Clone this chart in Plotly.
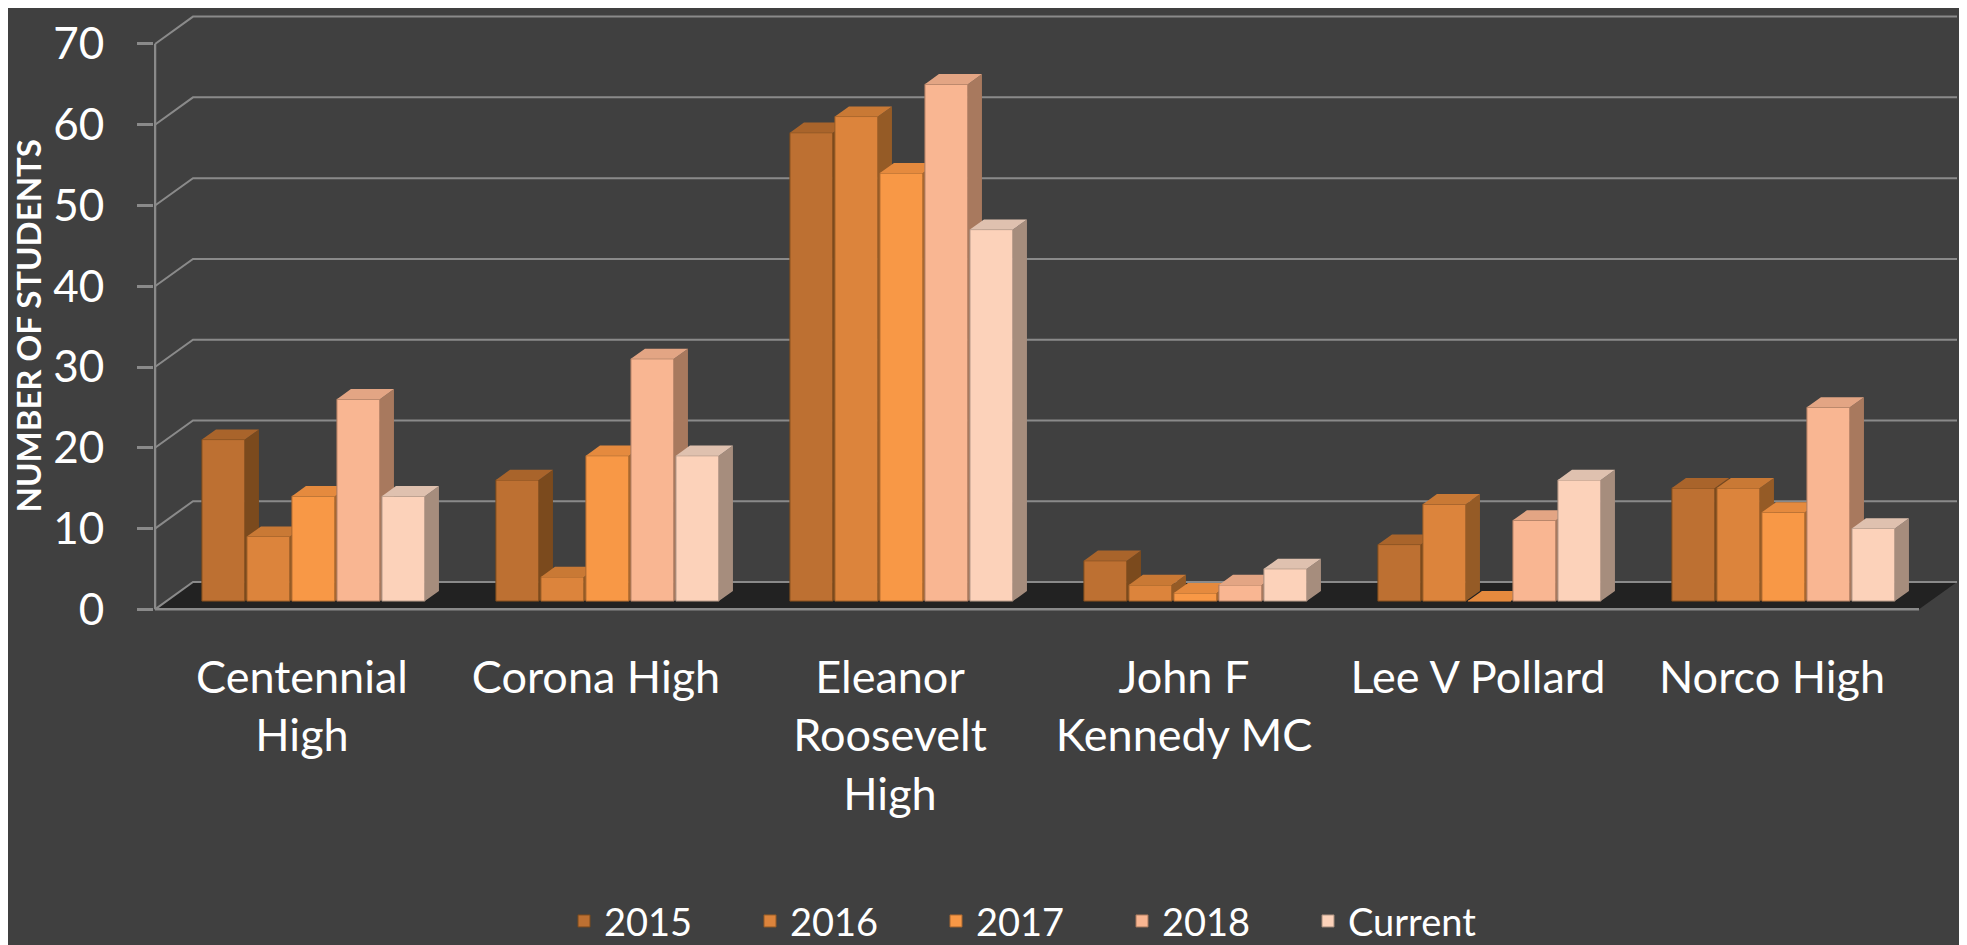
import plotly.graph_objects as go

# ---------------- data ----------------
categories = ["Centennial High", "Corona High", "Eleanor Roosevelt High",
              "John F Kennedy MC", "Lee V Pollard", "Norco High"]
tick_labels = ["Centennial<br>High", "Corona High", "Eleanor<br>Roosevelt<br>High",
               "John F<br>Kennedy MC", "Lee V Pollard", "Norco High"]
series_names = ["2015", "2016", "2017", "2018", "Current"]
v2015 = [20, 15, 58, 5, 7, 14]
v2016 = [8, 3, 60, 2, 12, 14]
v2017 = [13, 18, 53, 1, 0, 11]
v2018 = [25, 30, 64, 2, 10, 24]
v_current = [13, 18, 46, 4, 15, 9]
y_ticks = [0, 10, 20, 30, 40, 50, 60, 70]
y_title = "NUMBER OF STUDENTS"

series_values = [v2015, v2016, v2017, v2018, v_current]

# ---------------- styles ----------------
front_colors = ["#BD7032", "#DC843C", "#F89846", "#F9B692", "#FCD2BA"]
side_colors = ["#7B4A1D", "#955B26", "#A9672F", "#A8795E", "#A68D7D"]
top_colors = ["#A9642B", "#C97935", "#E58A3E", "#E3A584", "#DFC1AF"]
BG = "#404040"
GRID = "#8A8A8A"
FLOOR = "#222222"
FONT = "Lato"

W, H = 1967, 945
PX_PER_CAT = 294.0      # horizontal pixels per category
X0_PX = 294.0           # pixel x of first category (front plane)
PX_PER_UNIT = 8.26      # vertical pixels per student
Y0_PX = 615.0           # pixel y of value 0 (front plane)
DOM_L = 146.0
DOM_B = 650.0

# depth of the 3-D box expressed in axis units
DX = 38.0 / PX_PER_CAT
DY = 28.0 / PX_PER_UNIT
D_FRONT, D_BACK = 0.30, 0.67
PITCH = 45.0 / PX_PER_CAT
FACE = 43.0 / PX_PER_CAT

n_cat = len(categories)
x_left, x_right = -0.5, n_cat - 0.5

fig = go.Figure()

# floor
fig.add_trace(go.Scatter(
    x=[x_left, x_right, x_right + DX, x_left + DX, x_left],
    y=[0, 0, DY, DY, 0],
    mode="lines", fill="toself", fillcolor=FLOOR, line=dict(width=0),
    showlegend=False, hoverinfo="skip", zorder=0))

# back-wall gridlines with their diagonal to the front axis
gx, gy = [], []
for v in y_ticks:
    gx += [x_left, x_left + DX, x_right + DX, None]
    gy += [v, v + DY, v + DY, None]
fig.add_trace(go.Scatter(x=gx, y=gy, mode="lines",
                         line=dict(color=GRID, width=2),
                         showlegend=False, hoverinfo="skip", zorder=0))

# front axis lines (vertical value axis and floor front edge)
fig.add_trace(go.Scatter(x=[x_left, x_left, None, x_left, x_right],
                         y=[y_ticks[-1], 0, None, 0, 0], mode="lines",
                         line=dict(color=GRID, width=2.5),
                         showlegend=False, hoverinfo="skip", zorder=0))

ddx = (D_BACK - D_FRONT) * DX
ddy = (D_BACK - D_FRONT) * DY
base = D_FRONT * DY

for j, (name, vals) in enumerate(zip(series_names, series_values)):
    xc = [i + D_FRONT * DX + (j - 2) * PITCH for i in range(n_cat)]
    sx, sy, tx, ty = [], [], [], []
    for x, v in zip(xc, vals):
        xl, xr = x - FACE / 2, x + FACE / 2
        b, t = base, base + v
        sx += [xr, xr, xr + ddx, xr + ddx, xr, None]
        sy += [b, t, t + ddy, b + ddy, b, None]
        tx += [xl, xr, xr + ddx, xl + ddx, xl, None]
        ty += [t, t, t + ddy, t + ddy, t, None]
    fig.add_trace(go.Scatter(x=sx, y=sy, mode="lines", fill="toself",
                             fillcolor=side_colors[j], line=dict(width=0),
                             showlegend=False, hoverinfo="skip", zorder=j + 1))
    fig.add_trace(go.Scatter(x=tx, y=ty, mode="lines", fill="toself",
                             fillcolor=top_colors[j], line=dict(width=0),
                             showlegend=False, hoverinfo="skip", zorder=j + 1))
    fig.add_trace(go.Bar(
        x=xc, y=vals, base=base, width=FACE, name=name,
        marker=dict(color=front_colors[j],
                    line=dict(color=side_colors[j], width=1)),
        zorder=j + 1))

fig.update_layout(
    width=W, height=H,
    paper_bgcolor=BG, plot_bgcolor=BG,
    margin=dict(l=0, r=0, t=0, b=0),
    barmode="overlay",
    hovermode=False,
    font=dict(family=FONT, color="white"),
    showlegend=True,
    legend=dict(orientation="h", x=556 / W, xanchor="left",
                y=(H - 934) / H, yanchor="middle",
                font=dict(size=38, color="white"),
                entrywidth=141, bgcolor="rgba(0,0,0,0)",
                traceorder="normal"),
    xaxis=dict(domain=[DOM_L / W, 1],
               range=[(DOM_L - X0_PX) / PX_PER_CAT, (W - X0_PX) / PX_PER_CAT],
               tickvals=list(range(n_cat)), ticktext=tick_labels,
               tickfont=dict(size=45, color="white"),
               showgrid=False, zeroline=False, showline=False,
               ticks="", ticklabelstandoff=3),
    yaxis=dict(domain=[(H - DOM_B) / H, 1],
               range=[-(DOM_B - Y0_PX) / PX_PER_UNIT, Y0_PX / PX_PER_UNIT],
               tickvals=y_ticks, ticktext=[str(v) for v in y_ticks],
               tickfont=dict(size=44, color="white"),
               ticks="outside", ticklen=16, tickwidth=2.5, tickcolor=GRID,
               ticklabelstandoff=24,
               showgrid=False, zeroline=False, showline=False,
               title=dict(text="<b>" + y_title + "</b>",
                          font=dict(size=33, color="white"), standoff=12)),
)

fig.write_html("out.html")
